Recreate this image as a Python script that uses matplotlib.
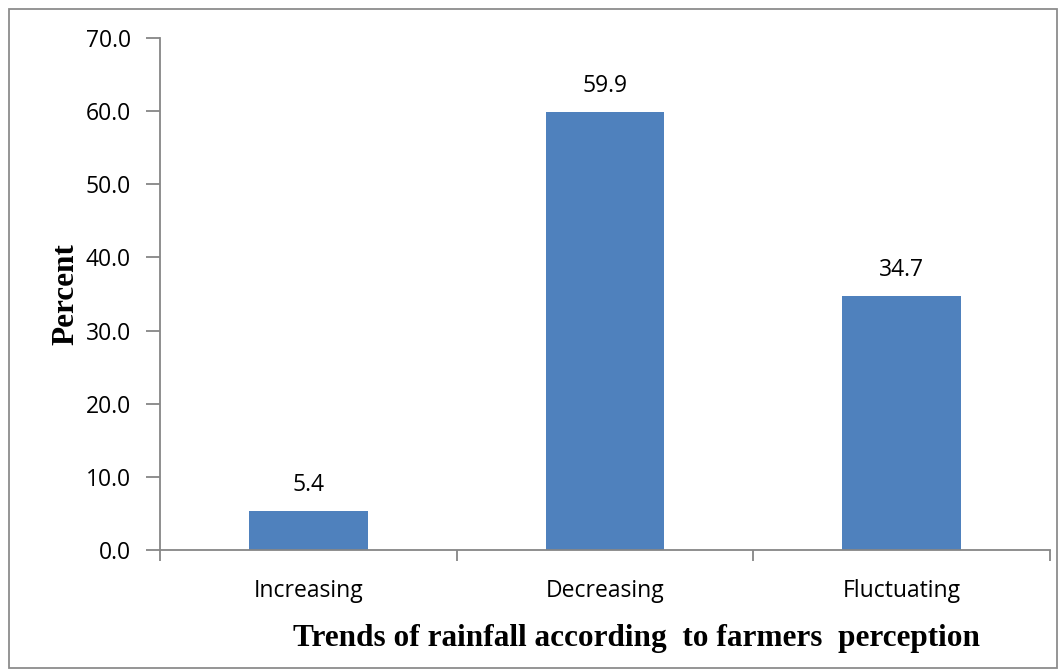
import matplotlib
matplotlib.use("Agg")
import matplotlib.pyplot as plt
from matplotlib.patches import Rectangle

categories = ["Increasing", "Decreasing", "Fluctuating"]
percent = [5.4, 59.9, 34.7]
yticks = [0, 10, 20, 30, 40, 50, 60, 70]

W, H = 1061, 669
fig = plt.figure(figsize=(W / 100, H / 100), dpi=100)
ax = fig.add_axes([160 / W, 1 - 550 / H, 890 / W, 512 / H])

spine_col = "#868686"
bar_col = "#4F81BD"
tick_font = "Open Sans"

x = range(len(categories))
bars = ax.bar(x, percent, width=0.4, color=bar_col, zorder=2)
for b, v in zip(bars, percent):
    ax.annotate(f"{v:.1f}", (b.get_x() + b.get_width() / 2, v), xytext=(0, 10),
                textcoords="offset points", ha="center", va="bottom",
                fontsize=16.5, family=tick_font, color="black")

ax.set_xlim(-0.5, len(categories) - 0.5)
ax.set_ylim(0, 70)
ax.set_yticks(yticks)
ax.set_yticklabels([f"{t:.1f}" for t in yticks], family=tick_font, fontsize=16.5)

# category labels between boundary ticks, like a spreadsheet chart
ax.set_xticks([i - 0.5 for i in range(len(categories) + 1)])
ax.set_xticklabels([])
ax.set_xticks(list(x), minor=True)
ax.set_xticklabels(categories, minor=True, family=tick_font, fontsize=16.5)
ax.tick_params(axis="x", which="minor", length=0, pad=21)
ax.tick_params(axis="x", which="major", length=8, color=spine_col, width=1.3)
ax.tick_params(axis="y", length=10, color=spine_col, width=1.3, pad=11)

for s in ["top", "right"]:
    ax.spines[s].set_visible(False)
for s in ["left", "bottom"]:
    ax.spines[s].set_color(spine_col)
    ax.spines[s].set_linewidth(1.3)

ax.set_ylabel("Percent", family="Liberation Serif", fontweight="bold", fontsize=22.5)
ax.yaxis.set_label_coords(-80 / 890, 0.5)
ax.set_xlabel("Trends of rainfall according  to farmers  perception",
              family="Liberation Serif", fontweight="bold", fontsize=22.5)
ax.xaxis.set_label_coords(0.535, -0.172)
ax.xaxis.label.set_verticalalignment("center")

# outer chart border
fig.patches.append(Rectangle((9 / W, 1 / H), 1048 / W, 659 / H, transform=fig.transFigure,
                             fill=False, edgecolor="#8c8c8c", linewidth=1.3))

fig.savefig("out.png", dpi=100)
